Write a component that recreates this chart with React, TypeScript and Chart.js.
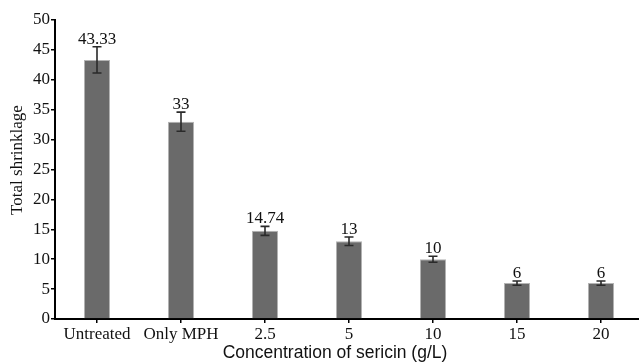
import React, { useEffect, useRef } from "react";
import { Chart, registerables } from "chart.js";

Chart.register(...registerables);

const categories = ["Untreated", "Only MPH", "2.5", "5", "10", "15", "20"];
const values = [43.33, 33, 14.74, 13, 10, 6, 6];
const errors = [2.2, 1.6, 0.75, 0.7, 0.5, 0.35, 0.35];
const valueLabels = ["43.33", "33", "14.74", "13", "10", "6", "6"];
const yTitle = "Total shrinklage";
const xTitle = "Concentration of sericin (g/L)";

const SERIF = "'Liberation Serif', 'Times New Roman', serif";
const SANS = "'Liberation Sans', Arial, sans-serif";

const overlayPlugin = {
  id: "overlay",
  afterDatasetsDraw(chart: any) {
    const ctx = chart.ctx;
    const meta = chart.getDatasetMeta(0);
    const y = chart.scales.y;
    ctx.save();
    meta.data.forEach((bar: any, i: number) => {
      const x = bar.x;
      const top = y.getPixelForValue(values[i] + errors[i]);
      const bot = y.getPixelForValue(values[i] - errors[i]);
      ctx.strokeStyle = "#2a2a2a";
      ctx.lineWidth = 1.6;
      ctx.beginPath();
      ctx.moveTo(x, top);
      ctx.lineTo(x, bot);
      ctx.moveTo(x - 4.5, top);
      ctx.lineTo(x + 4.5, top);
      ctx.moveTo(x - 4.5, bot);
      ctx.lineTo(x + 4.5, bot);
      ctx.stroke();
      ctx.fillStyle = "#111";
      ctx.font = "17px " + SERIF;
      ctx.textAlign = "center";
      ctx.textBaseline = "alphabetic";
      ctx.fillText(valueLabels[i], x, top - 3);
    });
    // axis titles
    ctx.fillStyle = "#111";
    ctx.font = "17.5px " + SANS;
    ctx.textAlign = "center";
    ctx.textBaseline = "middle";
    ctx.fillText(xTitle, 335, 353);
    ctx.save();
    ctx.translate(18, 160);
    ctx.rotate(-Math.PI / 2);
    ctx.font = "17px " + SERIF;
    ctx.fillText(yTitle, 0, 0);
    ctx.restore();
    ctx.restore();
  },
};

export default function App() {
  const ref = useRef<HTMLCanvasElement>(null);
  useEffect(() => {
    document.body.style.margin = "0";
    const chart = new Chart(ref.current!, {
      type: "bar",
      data: {
        labels: categories,
        datasets: [
          {
            data: values,
            backgroundColor: "#6a6a6a",
            borderColor: "#b4b4b4",
            borderWidth: 1,
            barPercentage: 0.31,
            categoryPercentage: 1,
          },
        ],
      },
      options: {
        responsive: false,
        animation: false,
        layout: { padding: { top: 20, right: 0, left: 0, bottom: 0 } },
        plugins: { legend: { display: false }, tooltip: { enabled: false } },
        scales: {
          x: {
            offset: true,
            afterFit: (s: any) => {
              s.height = 44;
            },
            grid: {
              offset: false,
              drawOnChartArea: false,
              drawTicks: true,
              tickLength: 4,
              color: "#000",
              lineWidth: 1.5,
            },
            border: { display: true, color: "#000", width: 2 },
            ticks: { color: "#111", font: { family: SERIF, size: 17 }, padding: 1, maxRotation: 0, autoSkip: false },
          },
          y: {
            min: 0,
            max: 50,
            afterFit: (s: any) => {
              s.width = 55;
            },
            grid: {
              drawOnChartArea: false,
              drawTicks: true,
              tickLength: 4,
              color: "#000",
              lineWidth: 1.5,
            },
            border: { display: true, color: "#000", width: 2 },
            ticks: { stepSize: 5, color: "#111", font: { family: SERIF, size: 17 }, padding: 1 },
          },
        },
      },
      plugins: [overlayPlugin],
    });
    return () => chart.destroy();
  }, []);
  return (
    <div style={{ position: "fixed", left: 0, top: 0, width: 639, height: 363, overflow: "hidden", background: "#fff" }}>
      <canvas ref={ref} width={643} height={363} style={{ display: "block" }} />
    </div>
  );
}
